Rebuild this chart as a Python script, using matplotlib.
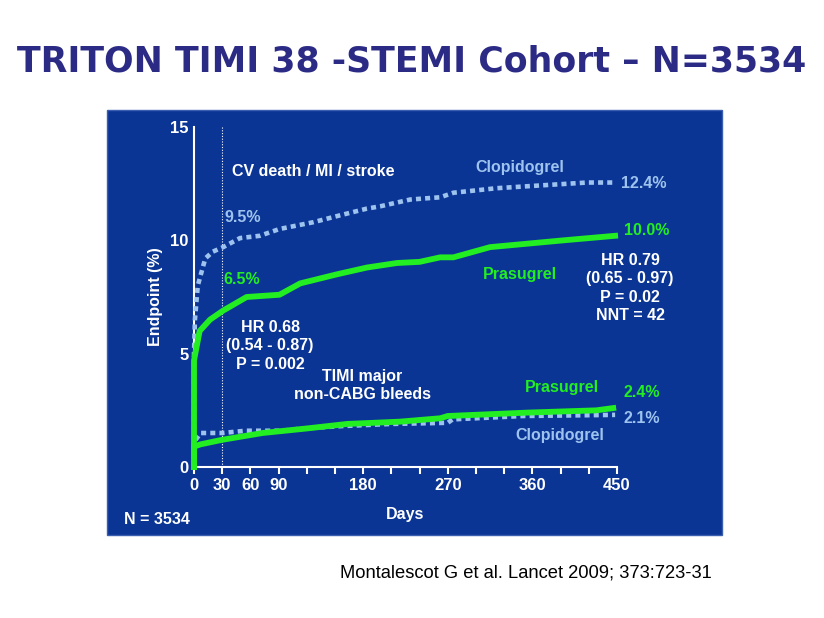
import matplotlib.pyplot as plt
from matplotlib.patches import Rectangle

# Efficacy: CV death / MI / stroke (%)
clop_eff_days = [0, 0, 1, 4, 12, 20, 31, 49, 70, 91, 127, 155, 184, 198, 230, 262, 276, 322, 360, 418, 445]
clop_eff_vals = [0, 5.0, 6.5, 8.0, 9.2, 9.5, 9.7, 10.1, 10.2, 10.5, 10.8, 11.1, 11.4, 11.5, 11.8, 11.9, 12.1, 12.3, 12.4, 12.55, 12.55]
pras_eff_days = [0, 0, 6, 17, 31, 56, 91, 113, 152, 184, 216, 240, 262, 276, 315, 393, 448]
pras_eff_vals = [0, 4.7, 6.0, 6.5, 6.9, 7.5, 7.6, 8.1, 8.5, 8.8, 9.0, 9.05, 9.25, 9.25, 9.7, 10.0, 10.2]

# Safety: TIMI major non-CABG bleeds (%)
clop_bleed_days = [0, 0, 7, 30, 55, 95, 115, 155, 210, 270, 275, 350, 448]
clop_bleed_vals = [0, 1.1, 1.5, 1.5, 1.6, 1.6, 1.7, 1.8, 1.9, 1.95, 2.1, 2.25, 2.3]
pras_bleed_days = [0, 0, 7, 30, 73, 120, 163, 219, 262, 270, 355, 428, 446]
pras_bleed_vals = [0, 0.9, 1.0, 1.2, 1.5, 1.7, 1.9, 2.0, 2.15, 2.25, 2.4, 2.5, 2.6]

x_ticks = [0, 30, 60, 90, 180, 270, 360, 450]
y_ticks = [0, 5, 10, 15]

navy = '#0B3594'
clop_col = '#9DC3EE'
pras_col = '#22EE22'

plt.rcParams['font.family'] = ['Liberation Sans', 'DejaVu Sans']

fig = plt.figure(figsize=(8.24, 6.18), dpi=100)

# Title
fig.text(0.5, 1 - 62 / 618, 'TRITON TIMI 38 -STEMI Cohort \u2013 N=3534',
         ha='center', va='center', fontsize=25, fontweight='bold',
         color='#2B2B85', family='DejaVu Sans')

# Dark blue panel behind the axes
fig.patches.append(Rectangle((107 / 824, 1 - 535 / 618), 615 / 824, 425 / 618,
                             transform=fig.transFigure, facecolor=navy,
                             edgecolor='#3A5FB0', linewidth=1, zorder=-1))

ax = fig.add_axes([194 / 824, 1 - 467 / 618, 423 / 824, 340 / 618])
ax.set_facecolor('none')
ax.set_xlim(0, 450)
ax.set_ylim(0, 15)

for s in ['top', 'right']:
    ax.spines[s].set_visible(False)
for s in ['left', 'bottom']:
    ax.spines[s].set_color('white')
    ax.spines[s].set_linewidth(1.5)

ax.set_xticks(range(0, 451, 30))
ax.set_xticklabels([str(t) if t in x_ticks else '' for t in range(0, 451, 30)])
ax.set_yticks(y_ticks)
ax.tick_params(axis='x', colors='white', length=5, width=1.5, labelsize=12, pad=3)
ax.tick_params(axis='y', colors='white', length=0, labelsize=12, pad=4)
for lab in ax.get_xticklabels() + ax.get_yticklabels():
    lab.set_fontweight('bold')

ax.set_xlabel('Days', color='white', fontsize=11.5, fontweight='bold', labelpad=10)
ax.set_ylabel('Endpoint (%)', color='white', fontsize=11.5, fontweight='bold', labelpad=5)

# 30-day landmark
ax.axvline(30, color='white', linestyle=(0, (1, 1.5)), linewidth=0.8)

dot = (0, (1.1, 0.9))
ax.plot(clop_eff_days, clop_eff_vals, color=clop_col, linewidth=3.3,
        linestyle=dot, dash_capstyle='butt', clip_on=False, zorder=3)
ax.plot(pras_eff_days, pras_eff_vals, color=pras_col, linewidth=4.2,
        clip_on=False, zorder=4)
ax.plot(clop_bleed_days, clop_bleed_vals, color=clop_col, linewidth=3.3,
        linestyle=dot, dash_capstyle='butt', clip_on=False, zorder=3)
ax.plot(pras_bleed_days, pras_bleed_vals, color=pras_col, linewidth=4.2,
        clip_on=False, zorder=4)

tkw = dict(fontsize=11.5, fontweight='bold', clip_on=False)
ax.text(40, 13.05, 'CV death / MI / stroke', color='white', ha='left', va='center', **tkw)
ax.text(347, 13.2, 'Clopidogrel', color=clop_col, ha='center', va='center', **tkw)
ax.text(454, 12.5, '12.4%', color=clop_col, ha='left', va='center', **tkw)
ax.text(32, 11.0, '9.5%', color=clop_col, ha='left', va='center', **tkw)
ax.text(457, 10.45, '10.0%', color=pras_col, ha='left', va='center', **tkw)
ax.text(31, 8.25, '6.5%', color=pras_col, ha='left', va='center', **tkw)
ax.text(347, 8.5, 'Prasugrel', color=pras_col, ha='center', va='center', **tkw)
ax.text(464, 7.9, 'HR 0.79\n(0.65 - 0.97)\nP = 0.02\nNNT = 42', color='white',
        ha='center', va='center', linespacing=1.3, **tkw)
ax.text(81, 5.35, 'HR 0.68\n(0.54 - 0.87)\nP = 0.002', color='white',
        ha='center', va='center', linespacing=1.3, **tkw)
ax.text(179, 3.6, 'TIMI major\nnon-CABG bleeds', color='white',
        ha='center', va='center', linespacing=1.3, **tkw)
ax.text(391, 3.5, 'Prasugrel', color=pras_col, ha='center', va='center', **tkw)
ax.text(457, 3.3, '2.4%', color=pras_col, ha='left', va='center', **tkw)
ax.text(457, 2.15, '2.1%', color=clop_col, ha='left', va='center', **tkw)
ax.text(389, 1.4, 'Clopidogrel', color=clop_col, ha='center', va='center', **tkw)

fig.text(124 / 824, 1 - 519 / 618, 'N = 3534', color='white', fontsize=11.5,
         fontweight='bold', ha='left', va='center')

fig.text(340 / 824, 1 - 573 / 618, 'Montalescot G et al. Lancet 2009; 373:723-31',
         color='black', fontsize=13.2, ha='left', va='center')

fig.savefig('out.png', dpi=100)
